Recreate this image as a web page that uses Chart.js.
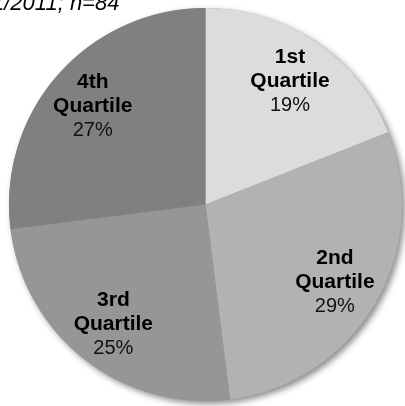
<!DOCTYPE html>
<html>
<head>
<meta charset="utf-8">
<script src="https://cdn.jsdelivr.net/npm/chart.js@4/dist/chart.umd.min.js"></script>
<style>
  html, body { margin: 0; padding: 0; background: #fff; }
  #wrap { width: 405px; height: 406px; position: relative; }
</style>
</head>
<body>
<div id="wrap"><canvas id="pie"></canvas></div>
<script>
"use strict";

var quartiles = ["1st", "2nd", "3rd", "4th"];
var shares = [19, 29, 25, 27];
var sliceColors = ["#dcdcdc", "#b2b2b2", "#969696", "#808080"];
var titleText = "1/2011; n=84";

// soft drop shadow under the pie, lower right
var pieShadow = {
    id: 'pieShadow',
    beforeDatasetsDraw: function (chart) {
        var arc = chart.getDatasetMeta(0).data[0];
        var c = chart.ctx;
        c.save();
        c.shadowColor = 'rgba(0,0,0,0.45)';
        c.shadowBlur = 6;
        c.shadowOffsetX = 3;
        c.shadowOffsetY = 3;
        c.fillStyle = '#999';
        c.beginPath();
        c.arc(arc.x, arc.y, arc.outerRadius, 0, Math.PI * 2);
        c.fill();
        c.restore();
    }
};

// three-line labels inside each slice
var sliceLabels = {
    id: 'sliceLabels',
    afterDatasetsDraw: function (chart) {
        var c = chart.ctx;
        var meta = chart.getDatasetMeta(0);
        c.save();
        c.textAlign = 'center';
        c.textBaseline = 'middle';
        c.fillStyle = '#000';
        meta.data.forEach(function (arc, i) {
            var mid = (arc.startAngle + arc.endAngle) / 2;
            var r = arc.outerRadius * 0.765;
            var x = arc.x + Math.cos(mid) * r;
            var y = arc.y + Math.sin(mid) * r + 1;
            c.font = 'bold 21px "Liberation Sans", Arial, sans-serif';
            c.fillText(quartiles[i], x, y - 24);
            c.fillText("Quartile", x, y);
            c.font = '20px "Liberation Sans", Arial, sans-serif';
            c.fillStyle = '#111';
            c.fillText(shares[i] + "%", x, y + 24);
            c.fillStyle = '#000';
        });
        c.restore();
    }
};

// cut-off caption at the top left
var caption = {
    id: 'caption',
    afterDraw: function (chart) {
        var c = chart.ctx;
        c.save();
        c.font = 'italic 22px "Liberation Sans", Arial, sans-serif';
        c.fillStyle = '#000';
        c.textBaseline = 'alphabetic';
        c.textAlign = 'left';
        c.fillText(titleText, -8, 10);
        c.restore();
    }
};

new Chart(document.getElementById('pie'), {
    type: 'pie',
    data: {
        labels: quartiles.map(function (q) { return q + " Quartile"; }),
        datasets: [{
            data: shares,
            backgroundColor: sliceColors,
            borderWidth: 0
        }]
    },
    options: {
        responsive: true,
        maintainAspectRatio: false,
        animation: false,
        layout: { padding: { left: 9, right: 3, top: 7, bottom: 4 } },
        plugins: {
            legend: { display: false },
            tooltip: { enabled: false }
        }
    },
    plugins: [pieShadow, sliceLabels, caption]
});
</script>
</body>
</html>
